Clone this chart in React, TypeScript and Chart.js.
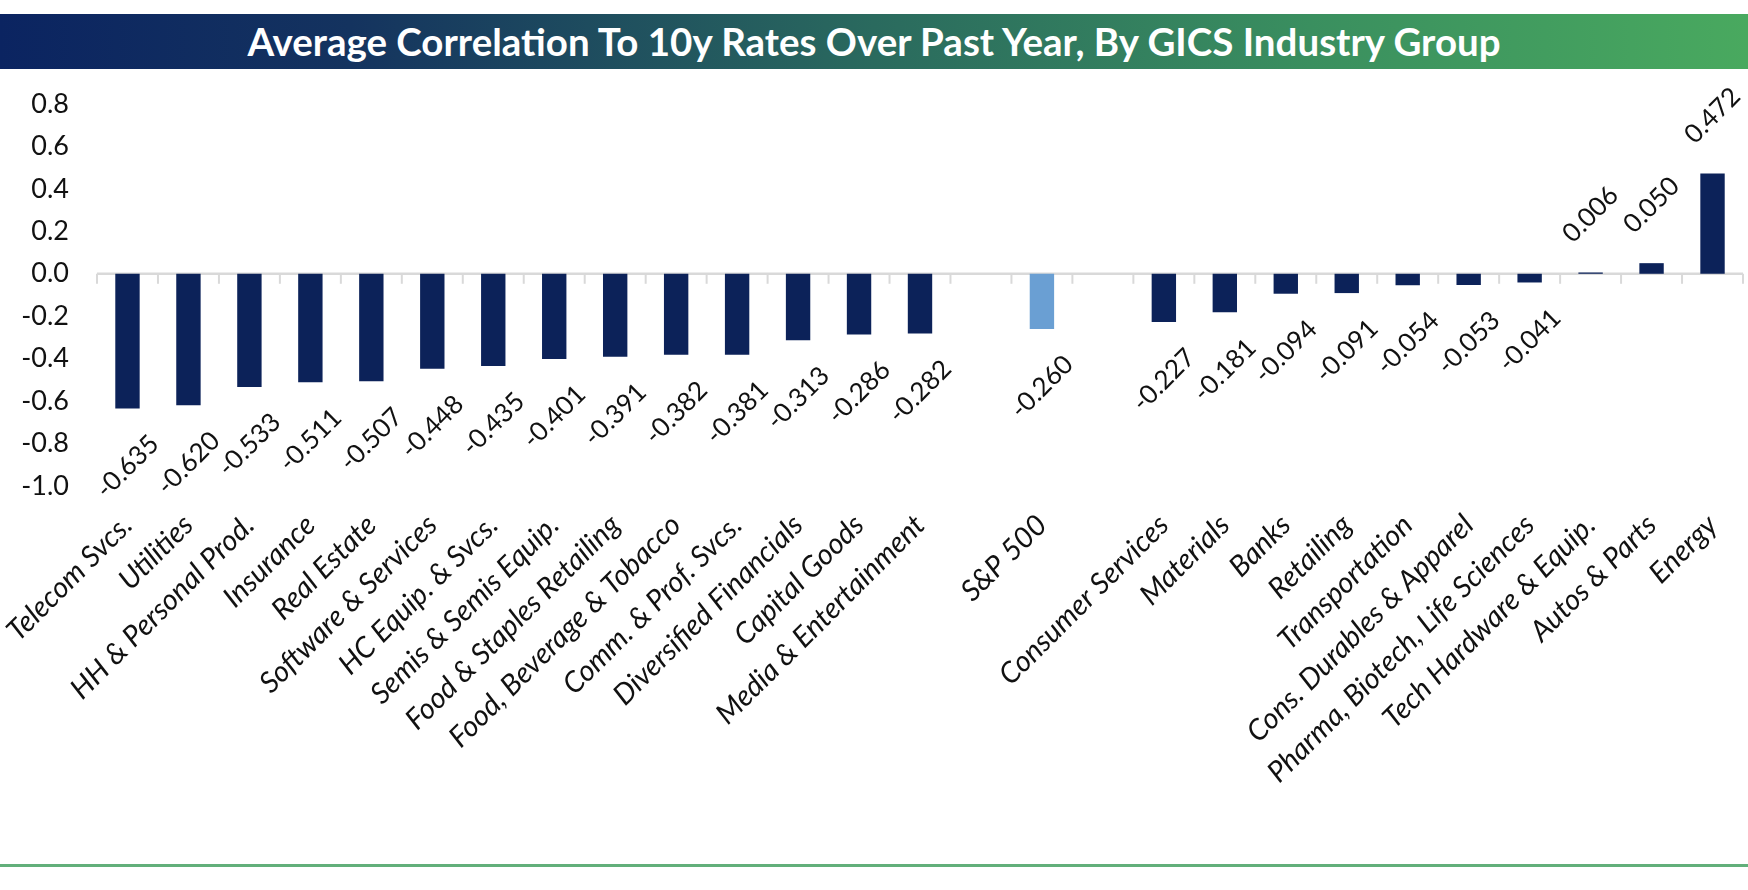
import React, { useEffect, useRef } from "react";
import { Chart, registerables } from "chart.js";

Chart.register(...registerables);

const categories: string[] = [
  "Telecom Svcs.",
  "Utilities",
  "HH & Personal Prod.",
  "Insurance",
  "Real Estate",
  "Software & Services",
  "HC Equip. & Svcs.",
  "Semis & Semis Equip.",
  "Food & Staples Retailing",
  "Food, Beverage & Tobacco",
  "Comm. & Prof. Svcs.",
  "Diversified Financials",
  "Capital Goods",
  "Media & Entertainment",
  "",
  "S&P 500",
  "",
  "Consumer Services",
  "Materials",
  "Banks",
  "Retailing",
  "Transportation",
  "Cons. Durables & Apparel",
  "Pharma, Biotech, Life Sciences",
  "Tech Hardware & Equip.",
  "Autos & Parts",
  "Energy",
];

const correlations: (number | null)[] = [
  -0.635, -0.62, -0.533, -0.511, -0.507, -0.448, -0.435, -0.401, -0.391, -0.382,
  -0.381, -0.313, -0.286, -0.282, null, -0.26, null, -0.227, -0.181, -0.094,
  -0.091, -0.054, -0.053, -0.041, 0.006, 0.05, 0.472,
];

const highlightLabel = "S&P 500";
const yTicks = { min: -1.0, max: 0.8, step: 0.2 };
const titleText = "Average Correlation To 10y Rates Over Past Year, By GICS Industry Group";

const NAVY = "#0c2259";
const LIGHT = "#6a9fd3";
const FONT = "Lato, 'Open Sans', sans-serif";

const zeroLinePlugin = {
  id: "zeroLine",
  beforeDatasetsDraw(chart: any) {
    const { ctx, scales } = chart;
    const x = scales.x;
    const y = scales.y;
    const y0 = y.getPixelForValue(0);
    ctx.save();
    ctx.strokeStyle = "#d9d9d9";
    ctx.lineWidth = 2.5;
    ctx.beginPath();
    ctx.moveTo(chart.chartArea.left, y0);
    ctx.lineTo(chart.chartArea.right, y0);
    ctx.stroke();
    ctx.lineWidth = 2;
    const n = chart.data.labels.length;
    for (let i = 0; i <= n; i++) {
      let px: number;
      if (i < n) {
        const c = x.getPixelForValue(i);
        const next = i + 1 < n ? x.getPixelForValue(i + 1) : c + (c - x.getPixelForValue(i - 1));
        px = i === 0 ? c - (next - c) / 2 : c - (c - x.getPixelForValue(i - 1)) / 2;
      } else {
        px = chart.chartArea.right;
      }
      ctx.beginPath();
      ctx.moveTo(px, y0);
      ctx.lineTo(px, y0 + 10);
      ctx.stroke();
    }
    ctx.restore();
  },
};

const valueLabelPlugin = {
  id: "valueLabels",
  afterDatasetsDraw(chart: any) {
    const { ctx } = chart;
    const meta = chart.getDatasetMeta(0);
    const data = chart.data.datasets[0].data as (number | null)[];
    ctx.save();
    ctx.font = `26px ${FONT}`;
    ctx.fillStyle = "#111111";
    ctx.textAlign = "center";
    ctx.textBaseline = "middle";
    meta.data.forEach((el: any, i: number) => {
      const v = data[i];
      if (v === null || v === undefined) return;
      const off = 58;
      const cy = v >= 0 ? el.y - off : el.y + off;
      ctx.save();
      ctx.translate(el.x, cy);
      ctx.rotate(-Math.PI / 4);
      ctx.fillText(v.toFixed(3), 0, 0);
      ctx.restore();
    });
    ctx.restore();
  },
};

function BarChart() {
  const ref = useRef<HTMLCanvasElement | null>(null);
  useEffect(() => {
    if (!ref.current) return;
    const chart = new Chart(ref.current, {
      type: "bar",
      data: {
        labels: categories,
        datasets: [
          {
            data: correlations as any,
            backgroundColor: categories.map((c) => (c === highlightLabel ? LIGHT : NAVY)),
            barPercentage: 0.4,
            categoryPercentage: 1.0,
          },
        ],
      },
      options: {
        animation: false,
        responsive: false,
        maintainAspectRatio: false,
        layout: { padding: { top: 32, right: 5, left: 0, bottom: 0 } },
        plugins: {
          legend: { display: false },
          tooltip: { enabled: false },
          title: { display: false },
        },
        scales: {
          x: {
            type: "category",
            grid: { display: false, drawTicks: false },
            border: { display: false },
            ticks: {
              autoSkip: false,
              minRotation: 45,
              maxRotation: 45,
              padding: 22,
              color: "#111111",
              font: { family: FONT, size: 29, style: "italic" },
            },
            afterFit(scale: any) {
              scale.height = 364;
              scale.paddingLeft = 0;
              scale.paddingRight = 0;
            },
          },
          y: {
            min: yTicks.min,
            max: yTicks.max,
            grid: { display: false, drawTicks: false },
            border: { display: false },
            ticks: {
              stepSize: yTicks.step,
              padding: 28,
              color: "#111111",
              font: { family: FONT, size: 27 },
              callback: (v: any) => Number(v).toFixed(1),
            },
            afterFit(scale: any) {
              scale.width = 97;
              scale.paddingTop = 0;
              scale.paddingBottom = 0;
            },
          },
        },
      },
      plugins: [zeroLinePlugin, valueLabelPlugin],
    });
    return () => chart.destroy();
  }, []);
  return (
    <canvas
      ref={ref}
      width={1748}
      height={778}
      style={{ position: "absolute", left: 0, top: 72, width: 1748, height: 778 }}
    />
  );
}

export default function App() {
  return (
    <div
      style={{
        position: "fixed",
        left: 0,
        top: 0,
        width: 1748,
        height: 890,
        background: "#ffffff",
        overflow: "hidden",
      }}
    >
      <div
        style={{
          position: "absolute",
          left: 0,
          top: 14,
          width: 1748,
          height: 55,
          background: "linear-gradient(to right, #0b2461 0%, #14335f 20%, #2a6a5e 50%, #3a8f5f 75%, #49a95f 100%)",
          color: "#ffffff",
          fontFamily: FONT,
          fontWeight: 700,
          fontSize: 38.5,
          lineHeight: "55px",
          textAlign: "center",
          whiteSpace: "nowrap",
        }}
      >
        {titleText}
      </div>
      <BarChart />
      <div
        style={{
          position: "absolute",
          left: 0,
          top: 864,
          width: 1748,
          height: 3,
          background: "#62af7a",
        }}
      />
    </div>
  );
}
